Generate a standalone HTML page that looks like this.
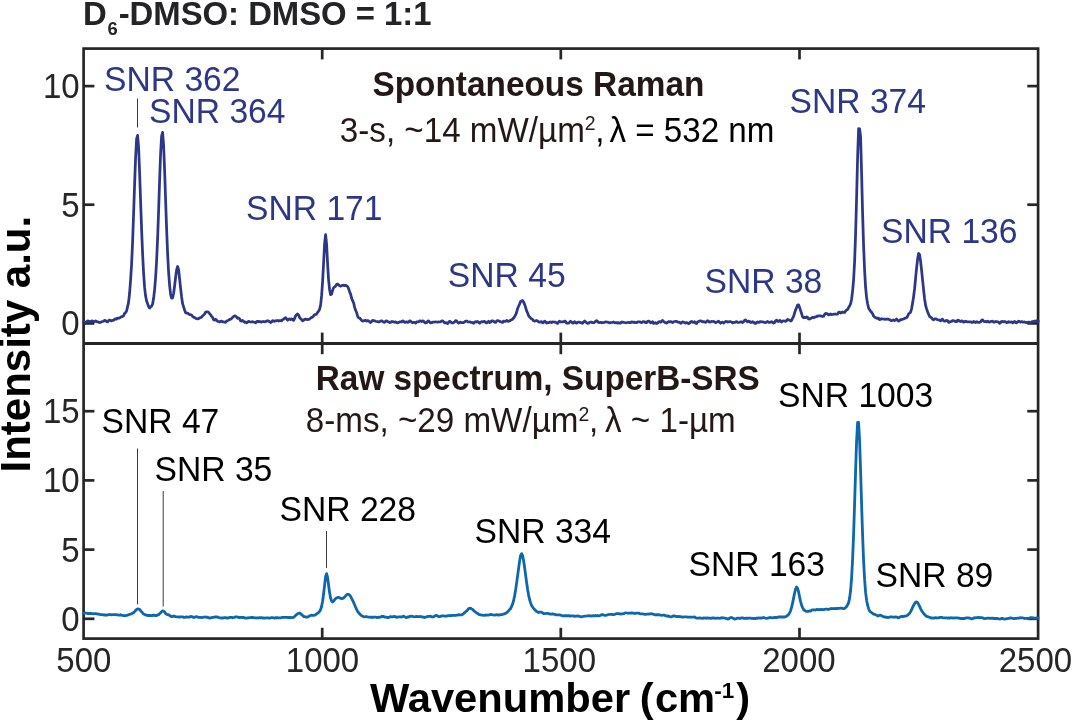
<!DOCTYPE html>
<html lang="en"><head><meta charset="utf-8"><title>D6-DMSO: DMSO = 1:1 spectra</title>
<style>
html,body{margin:0;padding:0;background:#fff;}
body{width:1072px;height:722px;overflow:hidden;font-family:"Liberation Sans",Arial,Helvetica,sans-serif;}
svg{display:block;will-change:transform;}
text{font-family:"Liberation Sans",Arial,Helvetica,sans-serif;}
</style></head><body>
<svg width="1072" height="722" viewBox="0 0 1072 722">
<rect x="0" y="0" width="1072" height="722" fill="#ffffff"/>

<text transform="translate(83.1,24.6) scale(1.0,1.03)" font-size="32.85" font-weight="bold" fill="#222426">D<tspan font-size="18.4" dy="10.5" dx="0.6">6</tspan><tspan dy="-10.5" dx="1.0">-DMSO: DMSO = 1:1</tspan></text>
<g stroke="#262626" stroke-width="2.7" fill="none" stroke-linecap="butt">
<rect x="83.6" y="48.6" width="954.4999999999999" height="590.0"/>
<line x1="83.6" y1="343.4" x2="1038.1" y2="343.4" stroke-width="3.0"/>
<line x1="83.6" y1="323.4" x2="94.39999999999999" y2="323.4"/>
<line x1="1038.1" y1="323.4" x2="1027.3" y2="323.4"/>
<line x1="83.6" y1="204.7" x2="94.39999999999999" y2="204.7"/>
<line x1="1038.1" y1="204.7" x2="1027.3" y2="204.7"/>
<line x1="83.6" y1="86.1" x2="94.39999999999999" y2="86.1"/>
<line x1="1038.1" y1="86.1" x2="1027.3" y2="86.1"/>
<line x1="83.6" y1="618.8" x2="94.39999999999999" y2="618.8"/>
<line x1="1038.1" y1="618.8" x2="1027.3" y2="618.8"/>
<line x1="83.6" y1="549.6" x2="94.39999999999999" y2="549.6"/>
<line x1="1038.1" y1="549.6" x2="1027.3" y2="549.6"/>
<line x1="83.6" y1="480.4" x2="94.39999999999999" y2="480.4"/>
<line x1="1038.1" y1="480.4" x2="1027.3" y2="480.4"/>
<line x1="83.6" y1="411.2" x2="94.39999999999999" y2="411.2"/>
<line x1="1038.1" y1="411.2" x2="1027.3" y2="411.2"/>
<line x1="322.2" y1="48.6" x2="322.2" y2="59.4"/>
<line x1="322.2" y1="332.59999999999997" x2="322.2" y2="354.2"/>
<line x1="322.2" y1="638.6" x2="322.2" y2="627.8000000000001"/>
<line x1="560.8" y1="48.6" x2="560.8" y2="59.4"/>
<line x1="560.8" y1="332.59999999999997" x2="560.8" y2="354.2"/>
<line x1="560.8" y1="638.6" x2="560.8" y2="627.8000000000001"/>
<line x1="799.5" y1="48.6" x2="799.5" y2="59.4"/>
<line x1="799.5" y1="332.59999999999997" x2="799.5" y2="354.2"/>
<line x1="799.5" y1="638.6" x2="799.5" y2="627.8000000000001"/>
</g>
<path d="M82.2,321.6 L83.6,322.1 L84.6,322.2 L85.6,322.2 L86.6,321.9 L87.6,320.8 L88.6,321.0 L89.6,321.9 L90.6,321.4 L91.6,320.9 L92.6,321.1 L93.6,321.6 L94.6,321.7 L95.6,320.9 L96.6,321.4 L97.6,321.9 L98.6,322.1 L99.6,322.5 L100.6,322.4 L101.6,321.8 L102.6,321.5 L103.6,321.2 L104.6,320.4 L105.6,320.6 L106.6,321.7 L107.6,321.8 L108.6,320.5 L109.6,320.1 L110.6,320.6 L111.6,320.8 L112.6,320.3 L113.6,320.3 L114.6,319.1 L115.6,318.9 L116.6,319.2 L117.6,318.0 L118.6,318.0 L119.6,318.0 L120.6,317.2 L121.6,316.6 L122.6,316.6 L123.6,315.7 L124.6,313.4 L125.6,312.7 L126.6,310.8 L127.6,306.7 L128.6,302.1 L129.6,293.0 L130.6,280.0 L131.6,264.2 L132.6,241.8 L133.6,213.7 L134.6,184.4 L135.6,157.2 L136.6,138.9 L137.6,135.4 L138.6,147.3 L139.6,172.0 L140.6,201.4 L141.6,229.5 L142.6,253.9 L143.6,273.3 L144.6,287.4 L145.6,296.1 L146.6,301.1 L147.6,303.8 L148.6,306.6 L149.6,308.1 L150.6,306.8 L151.6,306.1 L152.6,304.0 L153.6,298.3 L154.6,289.7 L155.6,277.3 L156.6,260.8 L157.6,238.6 L158.6,211.1 L159.6,180.6 L160.6,153.5 L161.6,136.1 L162.6,132.4 L163.6,145.3 L164.6,170.2 L165.6,200.1 L166.6,228.8 L167.6,253.4 L168.6,272.2 L169.6,285.3 L170.6,294.3 L171.6,298.1 L172.6,297.9 L173.6,293.5 L174.6,286.0 L175.6,277.3 L176.6,269.9 L177.6,266.5 L178.6,269.7 L179.6,278.9 L180.6,288.3 L181.6,296.9 L182.6,303.7 L183.6,306.8 L184.6,310.0 L185.6,312.8 L186.6,313.1 L187.6,313.1 L188.6,313.8 L189.6,314.6 L190.6,314.7 L191.6,315.0 L192.6,316.4 L193.6,317.3 L194.6,317.4 L195.6,318.4 L196.6,318.7 L197.6,318.9 L198.6,318.6 L199.6,317.8 L200.6,317.6 L201.6,317.0 L202.6,315.8 L203.6,315.0 L204.6,314.1 L205.6,312.0 L206.6,311.9 L207.6,311.8 L208.6,312.4 L209.6,313.7 L210.6,314.8 L211.6,316.4 L212.6,317.4 L213.6,319.7 L214.6,320.1 L215.6,319.3 L216.6,320.3 L217.6,321.3 L218.6,321.5 L219.6,321.9 L220.6,321.4 L221.6,321.2 L222.6,321.8 L223.6,321.9 L224.6,322.1 L225.6,322.3 L226.6,321.3 L227.6,320.5 L228.6,320.2 L229.6,319.4 L230.6,319.3 L231.6,318.5 L232.6,317.4 L233.6,316.4 L234.6,315.9 L235.6,316.1 L236.6,317.1 L237.6,318.3 L238.6,317.9 L239.6,318.8 L240.6,321.0 L241.6,321.1 L242.6,320.4 L243.6,321.4 L244.6,322.4 L245.6,322.0 L246.6,322.8 L247.6,322.2 L248.6,321.3 L249.6,321.7 L250.6,322.0 L251.6,321.8 L252.6,321.7 L253.6,322.0 L254.6,322.3 L255.6,322.8 L256.6,321.6 L257.6,321.3 L258.6,321.8 L259.6,321.5 L260.6,321.9 L261.6,322.1 L262.6,321.6 L263.6,321.5 L264.6,321.8 L265.6,321.7 L266.6,321.0 L267.6,320.7 L268.6,321.1 L269.6,321.7 L270.6,322.5 L271.6,321.8 L272.6,320.6 L273.6,321.1 L274.6,321.3 L275.6,320.8 L276.6,320.6 L277.6,320.5 L278.6,321.0 L279.6,320.6 L280.6,320.7 L281.6,320.8 L282.6,319.6 L283.6,319.3 L284.6,318.3 L285.6,317.6 L286.6,318.8 L287.6,320.2 L288.6,319.2 L289.6,319.0 L290.6,319.5 L291.6,318.8 L292.6,319.5 L293.6,320.4 L294.6,318.4 L295.6,315.8 L296.6,314.6 L297.6,314.0 L298.6,315.1 L299.6,317.5 L300.6,318.7 L301.6,319.6 L302.6,320.8 L303.6,320.2 L304.6,319.3 L305.6,319.2 L306.6,319.4 L307.6,319.6 L308.6,319.3 L309.6,319.1 L310.6,318.1 L311.6,317.6 L312.6,317.1 L313.6,315.9 L314.6,314.5 L315.6,314.5 L316.6,314.1 L317.6,312.3 L318.6,311.2 L319.6,309.3 L320.6,305.1 L321.6,295.7 L322.6,281.7 L323.6,262.8 L324.6,243.4 L325.6,234.7 L326.6,244.3 L327.6,263.9 L328.6,280.1 L329.6,289.7 L330.6,294.7 L331.6,294.1 L332.6,290.2 L333.6,287.7 L334.6,286.9 L335.6,286.1 L336.6,284.4 L337.6,284.0 L338.6,285.0 L339.6,285.7 L340.6,286.1 L341.6,285.8 L342.6,285.3 L343.6,285.2 L344.6,285.6 L345.6,285.4 L346.6,285.7 L347.6,286.5 L348.6,288.6 L349.6,291.7 L350.6,294.1 L351.6,298.0 L352.6,300.7 L353.6,302.8 L354.6,307.1 L355.6,310.3 L356.6,312.5 L357.6,316.2 L358.6,317.9 L359.6,318.0 L360.6,319.1 L361.6,320.3 L362.6,321.0 L363.6,320.9 L364.6,320.5 L365.6,320.4 L366.6,321.1 L367.6,320.6 L368.6,320.9 L369.6,321.9 L370.6,322.5 L371.6,321.6 L372.6,320.3 L373.6,320.7 L374.6,320.8 L375.6,321.2 L376.6,321.5 L377.6,321.7 L378.6,321.9 L379.6,321.8 L380.6,321.0 L381.6,320.7 L382.6,321.5 L383.6,322.1 L384.6,322.3 L385.6,321.3 L386.6,320.8 L387.6,321.5 L388.6,321.9 L389.6,322.5 L390.6,322.4 L391.6,321.5 L392.6,321.6 L393.6,322.1 L394.6,322.1 L395.6,321.9 L396.6,322.6 L397.6,322.8 L398.6,322.4 L399.6,321.9 L400.6,321.9 L401.6,322.0 L402.6,320.9 L403.6,321.3 L404.6,322.4 L405.6,322.1 L406.6,321.8 L407.6,322.4 L408.6,322.2 L409.6,320.8 L410.6,321.1 L411.6,322.2 L412.6,322.6 L413.6,322.3 L414.6,322.4 L415.6,323.1 L416.6,321.9 L417.6,321.8 L418.6,321.9 L419.6,320.8 L420.6,321.1 L421.6,321.6 L422.6,320.8 L423.6,321.2 L424.6,322.4 L425.6,322.9 L426.6,322.6 L427.6,321.3 L428.6,320.9 L429.6,322.0 L430.6,322.9 L431.6,322.7 L432.6,322.1 L433.6,322.0 L434.6,322.0 L435.6,321.8 L436.6,322.0 L437.6,322.2 L438.6,321.9 L439.6,322.0 L440.6,321.8 L441.6,320.9 L442.6,320.9 L443.6,321.7 L444.6,322.8 L445.6,322.6 L446.6,322.8 L447.6,323.6 L448.6,322.3 L449.6,321.3 L450.6,321.8 L451.6,322.9 L452.6,323.0 L453.6,322.5 L454.6,322.0 L455.6,320.7 L456.6,320.9 L457.6,322.3 L458.6,323.0 L459.6,322.6 L460.6,322.1 L461.6,322.7 L462.6,322.5 L463.6,322.5 L464.6,322.0 L465.6,321.0 L466.6,321.0 L467.6,321.7 L468.6,322.0 L469.6,321.8 L470.6,322.3 L471.6,322.3 L472.6,322.8 L473.6,323.3 L474.6,322.3 L475.6,321.7 L476.6,322.0 L477.6,321.4 L478.6,322.3 L479.6,323.2 L480.6,322.2 L481.6,321.7 L482.6,321.9 L483.6,321.6 L484.6,321.3 L485.6,322.4 L486.6,322.9 L487.6,322.0 L488.6,321.3 L489.6,322.5 L490.6,322.1 L491.6,320.9 L492.6,320.9 L493.6,321.3 L494.6,322.1 L495.6,322.4 L496.6,321.0 L497.6,320.6 L498.6,321.0 L499.6,321.2 L500.6,321.8 L501.6,322.2 L502.6,322.4 L503.6,321.1 L504.6,321.4 L505.6,321.3 L506.6,320.4 L507.6,321.2 L508.6,321.4 L509.6,320.8 L510.6,320.2 L511.6,319.7 L512.6,319.2 L513.6,318.0 L514.6,316.6 L515.6,315.1 L516.6,312.3 L517.6,308.5 L518.6,306.3 L519.6,304.0 L520.6,301.4 L521.6,300.9 L522.6,300.6 L523.6,302.1 L524.6,304.4 L525.6,307.4 L526.6,310.8 L527.6,313.0 L528.6,315.7 L529.6,317.0 L530.6,318.0 L531.6,318.9 L532.6,319.5 L533.6,320.8 L534.6,321.1 L535.6,320.8 L536.6,320.5 L537.6,321.1 L538.6,321.7 L539.6,322.2 L540.6,321.9 L541.6,321.7 L542.6,322.9 L543.6,322.5 L544.6,321.1 L545.6,321.9 L546.6,323.0 L547.6,322.6 L548.6,322.7 L549.6,322.2 L550.6,322.0 L551.6,322.6 L552.6,321.9 L553.6,322.0 L554.6,322.1 L555.6,322.2 L556.6,323.0 L557.6,323.4 L558.6,321.9 L559.6,321.2 L560.6,322.0 L561.6,321.9 L562.6,321.9 L563.6,321.9 L564.6,321.1 L565.6,321.6 L566.6,323.2 L567.6,323.2 L568.6,323.1 L569.6,322.3 L570.6,321.3 L571.6,322.1 L572.6,323.2 L573.6,322.9 L574.6,321.6 L575.6,322.7 L576.6,323.1 L577.6,322.3 L578.6,322.1 L579.6,322.1 L580.6,322.7 L581.6,322.9 L582.6,323.3 L583.6,321.9 L584.6,321.0 L585.6,321.9 L586.6,322.7 L587.6,323.4 L588.6,323.2 L589.6,322.3 L590.6,322.1 L591.6,322.2 L592.6,322.7 L593.6,322.7 L594.6,322.2 L595.6,321.5 L596.6,320.6 L597.6,321.3 L598.6,322.5 L599.6,322.5 L600.6,322.4 L601.6,322.8 L602.6,322.5 L603.6,322.6 L604.6,322.3 L605.6,321.9 L606.6,322.0 L607.6,322.1 L608.6,322.5 L609.6,322.9 L610.6,322.7 L611.6,322.5 L612.6,322.3 L613.6,322.0 L614.6,322.8 L615.6,322.7 L616.6,322.7 L617.6,323.1 L618.6,322.6 L619.6,323.2 L620.6,323.1 L621.6,322.0 L622.6,322.1 L623.6,322.4 L624.6,322.5 L625.6,322.8 L626.6,322.7 L627.6,322.5 L628.6,322.3 L629.6,322.7 L630.6,322.6 L631.6,321.9 L632.6,322.1 L633.6,322.4 L634.6,322.1 L635.6,322.7 L636.6,322.7 L637.6,321.8 L638.6,321.9 L639.6,321.8 L640.6,322.3 L641.6,322.6 L642.6,321.9 L643.6,321.6 L644.6,321.8 L645.6,322.7 L646.6,322.6 L647.6,321.3 L648.6,321.1 L649.6,321.5 L650.6,322.8 L651.6,322.4 L652.6,321.8 L653.6,323.4 L654.6,323.2 L655.6,322.7 L656.6,323.5 L657.6,323.0 L658.6,321.8 L659.6,321.7 L660.6,322.2 L661.6,321.2 L662.6,320.5 L663.6,321.4 L664.6,322.3 L665.6,322.8 L666.6,323.1 L667.6,322.3 L668.6,321.7 L669.6,321.9 L670.6,321.6 L671.6,322.0 L672.6,322.5 L673.6,321.8 L674.6,321.5 L675.6,321.3 L676.6,321.4 L677.6,322.1 L678.6,322.1 L679.6,322.4 L680.6,323.4 L681.6,322.6 L682.6,321.9 L683.6,322.0 L684.6,322.8 L685.6,323.1 L686.6,322.6 L687.6,322.8 L688.6,323.6 L689.6,323.3 L690.6,321.8 L691.6,321.5 L692.6,322.2 L693.6,322.4 L694.6,321.8 L695.6,323.1 L696.6,323.5 L697.6,321.9 L698.6,321.5 L699.6,321.0 L700.6,320.8 L701.6,321.4 L702.6,321.8 L703.6,321.6 L704.6,322.0 L705.6,322.4 L706.6,321.7 L707.6,320.7 L708.6,321.2 L709.6,322.2 L710.6,322.0 L711.6,321.4 L712.6,321.5 L713.6,321.4 L714.6,321.9 L715.6,322.6 L716.6,322.3 L717.6,321.8 L718.6,321.2 L719.6,322.3 L720.6,323.2 L721.6,322.4 L722.6,322.2 L723.6,323.1 L724.6,322.3 L725.6,321.4 L726.6,321.6 L727.6,322.1 L728.6,321.8 L729.6,321.7 L730.6,321.7 L731.6,322.0 L732.6,322.9 L733.6,322.4 L734.6,322.3 L735.6,322.1 L736.6,321.6 L737.6,322.4 L738.6,322.5 L739.6,322.2 L740.6,321.8 L741.6,321.9 L742.6,322.6 L743.6,321.7 L744.6,320.4 L745.6,320.0 L746.6,321.1 L747.6,321.9 L748.6,321.2 L749.6,321.4 L750.6,322.5 L751.6,322.4 L752.6,321.7 L753.6,322.2 L754.6,323.2 L755.6,323.5 L756.6,322.4 L757.6,322.0 L758.6,322.4 L759.6,321.9 L760.6,321.6 L761.6,321.8 L762.6,321.9 L763.6,322.1 L764.6,322.5 L765.6,322.6 L766.6,321.9 L767.6,321.4 L768.6,322.3 L769.6,322.4 L770.6,322.2 L771.6,321.7 L772.6,322.3 L773.6,323.1 L774.6,322.5 L775.6,320.8 L776.6,320.1 L777.6,321.4 L778.6,321.5 L779.6,320.4 L780.6,320.8 L781.6,322.0 L782.6,321.2 L783.6,320.8 L784.6,321.0 L785.6,321.4 L786.6,320.7 L787.6,319.5 L788.6,320.0 L789.6,320.2 L790.6,321.0 L791.6,320.3 L792.6,318.2 L793.6,316.3 L794.6,313.0 L795.6,309.9 L796.6,307.6 L797.6,305.1 L798.6,304.8 L799.6,307.4 L800.6,310.6 L801.6,313.7 L802.6,316.9 L803.6,317.7 L804.6,317.4 L805.6,317.7 L806.6,317.0 L807.6,317.4 L808.6,319.0 L809.6,319.1 L810.6,318.6 L811.6,318.1 L812.6,317.2 L813.6,317.7 L814.6,317.3 L815.6,316.9 L816.6,316.7 L817.6,315.8 L818.6,316.0 L819.6,315.9 L820.6,315.9 L821.6,316.1 L822.6,316.5 L823.6,316.2 L824.6,314.5 L825.6,313.4 L826.6,313.6 L827.6,314.1 L828.6,314.9 L829.6,314.4 L830.6,314.0 L831.6,314.6 L832.6,314.5 L833.6,314.2 L834.6,314.1 L835.6,314.0 L836.6,314.2 L837.6,314.1 L838.6,312.4 L839.6,312.1 L840.6,313.1 L841.6,312.6 L842.6,311.9 L843.6,312.4 L844.6,312.5 L845.6,311.0 L846.6,310.1 L847.6,309.5 L848.6,307.5 L849.6,306.0 L850.6,303.8 L851.6,299.2 L852.6,291.1 L853.6,279.6 L854.6,261.7 L855.6,233.7 L856.6,197.4 L857.6,157.1 L858.6,128.7 L859.6,128.8 L860.6,136.8 L861.6,173.8 L862.6,213.6 L863.6,246.0 L864.6,270.2 L865.6,287.6 L866.6,297.6 L867.6,303.8 L868.6,308.0 L869.6,309.8 L870.6,311.3 L871.6,312.3 L872.6,313.7 L873.6,316.1 L874.6,317.2 L875.6,317.5 L876.6,318.3 L877.6,318.1 L878.6,318.2 L879.6,319.7 L880.6,319.3 L881.6,318.7 L882.6,319.0 L883.6,319.1 L884.6,319.1 L885.6,319.3 L886.6,319.1 L887.6,319.0 L888.6,319.4 L889.6,319.5 L890.6,320.4 L891.6,320.7 L892.6,320.2 L893.6,320.0 L894.6,320.5 L895.6,319.8 L896.6,319.0 L897.6,320.3 L898.6,321.1 L899.6,320.5 L900.6,319.6 L901.6,319.6 L902.6,319.3 L903.6,319.0 L904.6,318.4 L905.6,318.0 L906.6,317.7 L907.6,316.2 L908.6,313.8 L909.6,313.1 L910.6,312.2 L911.6,308.6 L912.6,303.1 L913.6,296.6 L914.6,288.7 L915.6,278.2 L916.6,267.9 L917.6,259.1 L918.6,253.5 L919.6,254.7 L920.6,261.5 L921.6,270.4 L922.6,280.2 L923.6,289.9 L924.6,299.0 L925.6,305.4 L926.6,308.9 L927.6,311.7 L928.6,314.3 L929.6,316.5 L930.6,317.2 L931.6,317.8 L932.6,319.3 L933.6,319.8 L934.6,318.9 L935.6,318.8 L936.6,319.2 L937.6,319.7 L938.6,320.0 L939.6,320.2 L940.6,320.9 L941.6,319.6 L942.6,319.2 L943.6,320.7 L944.6,321.2 L945.6,320.9 L946.6,320.4 L947.6,320.8 L948.6,322.3 L949.6,322.2 L950.6,321.5 L951.6,321.3 L952.6,320.7 L953.6,320.7 L954.6,321.0 L955.6,321.7 L956.6,321.7 L957.6,320.2 L958.6,320.3 L959.6,321.2 L960.6,321.5 L961.6,320.8 L962.6,321.3 L963.6,322.2 L964.6,321.6 L965.6,321.2 L966.6,321.6 L967.6,321.8 L968.6,321.8 L969.6,321.9 L970.6,321.8 L971.6,322.4 L972.6,322.4 L973.6,321.5 L974.6,321.9 L975.6,322.5 L976.6,321.7 L977.6,322.1 L978.6,322.3 L979.6,322.3 L980.6,321.9 L981.6,320.3 L982.6,319.9 L983.6,321.1 L984.6,321.7 L985.6,321.5 L986.6,321.9 L987.6,321.2 L988.6,321.9 L989.6,322.1 L990.6,321.5 L991.6,321.3 L992.6,321.2 L993.6,322.2 L994.6,322.2 L995.6,321.5 L996.6,321.6 L997.6,321.8 L998.6,322.0 L999.6,323.3 L1000.6,322.6 L1001.6,321.3 L1002.6,321.6 L1003.6,321.9 L1004.6,321.5 L1005.6,321.8 L1006.6,322.6 L1007.6,322.5 L1008.6,321.6 L1009.6,322.2 L1010.6,322.2 L1011.6,321.8 L1012.6,322.9 L1013.6,322.0 L1014.6,321.5 L1015.6,322.7 L1016.6,322.9 L1017.6,321.8 L1018.6,321.1 L1019.6,321.7 L1020.6,322.1 L1021.6,321.6 L1022.6,322.1 L1023.6,322.2 L1024.6,321.9 L1025.6,322.4 L1026.6,322.6 L1027.6,322.3 L1028.6,322.1 L1029.6,322.4 L1030.6,322.6 L1031.6,321.8 L1032.6,321.5 L1033.6,321.6 L1034.6,321.1 L1035.6,321.3 L1036.6,320.8 L1037.6,321.4 L1039.4,322.1" fill="none" stroke="#2d3787" stroke-width="2.75" stroke-linejoin="round" stroke-linecap="butt"/>
<path d="M82.2,612.9 L83.6,613.3 L84.6,613.2 L85.6,613.2 L86.6,613.1 L87.6,613.6 L88.6,613.4 L89.6,613.6 L90.6,613.2 L91.6,613.6 L92.6,613.7 L93.6,613.8 L94.6,613.7 L95.6,613.7 L96.6,613.9 L97.6,614.0 L98.6,614.1 L99.6,614.4 L100.6,614.6 L101.6,614.6 L102.6,614.7 L103.6,615.0 L104.6,615.0 L105.6,614.9 L106.6,615.1 L107.6,615.0 L108.6,614.7 L109.6,614.5 L110.6,614.7 L111.6,614.9 L112.6,614.7 L113.6,614.7 L114.6,614.7 L115.6,614.7 L116.6,614.7 L117.6,615.0 L118.6,615.1 L119.6,615.1 L120.6,614.7 L121.6,615.1 L122.6,615.3 L123.6,615.6 L124.6,615.7 L125.6,615.6 L126.6,615.3 L127.6,615.1 L128.6,614.7 L129.6,614.5 L130.6,614.0 L131.6,613.8 L132.6,613.1 L133.6,612.7 L134.6,611.6 L135.6,610.5 L136.6,609.5 L137.6,608.9 L138.6,609.1 L139.6,609.3 L140.6,610.6 L141.6,611.8 L142.6,612.9 L143.6,613.9 L144.6,614.5 L145.6,615.0 L146.6,615.1 L147.6,615.5 L148.6,615.4 L149.6,615.5 L150.6,615.5 L151.6,615.6 L152.6,615.5 L153.6,615.2 L154.6,615.5 L155.6,615.5 L156.6,615.5 L157.6,614.8 L158.6,614.6 L159.6,613.7 L160.6,612.9 L161.6,611.6 L162.6,611.0 L163.6,611.1 L164.6,611.9 L165.6,613.5 L166.6,614.2 L167.6,614.7 L168.6,614.7 L169.6,615.5 L170.6,616.2 L171.6,616.7 L172.6,616.2 L173.6,616.1 L174.6,616.4 L175.6,616.7 L176.6,616.8 L177.6,616.8 L178.6,617.0 L179.6,617.0 L180.6,616.9 L181.6,616.8 L182.6,616.9 L183.6,617.3 L184.6,617.4 L185.6,617.1 L186.6,616.9 L187.6,617.1 L188.6,617.1 L189.6,617.0 L190.6,616.4 L191.6,616.6 L192.6,616.8 L193.6,617.5 L194.6,617.3 L195.6,616.8 L196.6,616.7 L197.6,617.0 L198.6,617.4 L199.6,617.4 L200.6,617.4 L201.6,617.6 L202.6,617.4 L203.6,617.2 L204.6,617.1 L205.6,617.0 L206.6,617.3 L207.6,617.2 L208.6,617.8 L209.6,618.0 L210.6,617.9 L211.6,617.7 L212.6,617.3 L213.6,617.4 L214.6,617.0 L215.6,617.0 L216.6,616.9 L217.6,617.2 L218.6,617.5 L219.6,617.8 L220.6,617.9 L221.6,618.0 L222.6,618.0 L223.6,617.9 L224.6,617.6 L225.6,617.6 L226.6,618.0 L227.6,618.0 L228.6,617.9 L229.6,617.4 L230.6,617.3 L231.6,617.4 L232.6,617.8 L233.6,617.5 L234.6,617.3 L235.6,616.8 L236.6,616.8 L237.6,617.1 L238.6,617.4 L239.6,617.7 L240.6,617.4 L241.6,617.4 L242.6,617.5 L243.6,617.5 L244.6,617.9 L245.6,618.0 L246.6,618.2 L247.6,617.9 L248.6,617.9 L249.6,617.7 L250.6,617.6 L251.6,617.4 L252.6,617.5 L253.6,617.6 L254.6,617.8 L255.6,617.9 L256.6,618.0 L257.6,617.8 L258.6,617.8 L259.6,617.6 L260.6,617.9 L261.6,617.7 L262.6,618.0 L263.6,617.9 L264.6,618.1 L265.6,618.0 L266.6,617.8 L267.6,617.9 L268.6,618.0 L269.6,618.2 L270.6,617.9 L271.6,617.7 L272.6,617.7 L273.6,617.9 L274.6,618.2 L275.6,617.7 L276.6,618.0 L277.6,617.6 L278.6,617.8 L279.6,617.8 L280.6,617.8 L281.6,617.7 L282.6,617.3 L283.6,617.3 L284.6,617.3 L285.6,617.4 L286.6,617.3 L287.6,617.5 L288.6,617.4 L289.6,617.6 L290.6,617.4 L291.6,617.6 L292.6,617.5 L293.6,617.3 L294.6,616.5 L295.6,615.4 L296.6,614.6 L297.6,613.7 L298.6,613.3 L299.6,613.0 L300.6,613.6 L301.6,614.7 L302.6,615.5 L303.6,616.5 L304.6,616.6 L305.6,617.1 L306.6,617.2 L307.6,617.1 L308.6,616.6 L309.6,615.8 L310.6,615.5 L311.6,615.2 L312.6,615.3 L313.6,615.4 L314.6,615.2 L315.6,614.7 L316.6,613.9 L317.6,613.3 L318.6,612.5 L319.6,611.3 L320.6,609.7 L321.6,606.5 L322.6,601.2 L323.6,593.8 L324.6,584.9 L325.6,576.7 L326.6,573.7 L327.6,577.5 L328.6,585.3 L329.6,592.6 L330.6,598.0 L331.6,601.2 L332.6,602.0 L333.6,601.2 L334.6,599.7 L335.6,598.6 L336.6,597.9 L337.6,597.4 L338.6,597.3 L339.6,597.9 L340.6,598.3 L341.6,598.8 L342.6,598.4 L343.6,598.1 L344.6,597.1 L345.6,595.9 L346.6,594.8 L347.6,594.3 L348.6,594.3 L349.6,595.1 L350.6,596.4 L351.6,598.4 L352.6,600.4 L353.6,602.4 L354.6,604.7 L355.6,607.1 L356.6,609.3 L357.6,611.3 L358.6,612.6 L359.6,613.9 L360.6,614.8 L361.6,615.6 L362.6,616.3 L363.6,616.8 L364.6,616.8 L365.6,616.7 L366.6,616.7 L367.6,617.0 L368.6,617.2 L369.6,617.1 L370.6,617.3 L371.6,617.1 L372.6,617.5 L373.6,617.1 L374.6,617.2 L375.6,617.2 L376.6,617.5 L377.6,617.5 L378.6,617.1 L379.6,617.3 L380.6,617.2 L381.6,616.5 L382.6,616.5 L383.6,616.5 L384.6,617.2 L385.6,617.0 L386.6,617.4 L387.6,617.5 L388.6,617.5 L389.6,617.1 L390.6,616.6 L391.6,616.8 L392.6,616.8 L393.6,616.5 L394.6,616.5 L395.6,616.7 L396.6,617.3 L397.6,617.1 L398.6,616.8 L399.6,616.8 L400.6,616.9 L401.6,617.0 L402.6,616.5 L403.6,616.2 L404.6,616.7 L405.6,617.2 L406.6,617.6 L407.6,617.0 L408.6,617.0 L409.6,616.5 L410.6,616.4 L411.6,616.2 L412.6,616.5 L413.6,616.7 L414.6,616.8 L415.6,616.6 L416.6,616.5 L417.6,616.6 L418.6,616.6 L419.6,616.6 L420.6,616.5 L421.6,616.9 L422.6,617.0 L423.6,617.1 L424.6,617.5 L425.6,617.1 L426.6,616.9 L427.6,616.4 L428.6,616.4 L429.6,616.4 L430.6,616.2 L431.6,616.8 L432.6,616.9 L433.6,616.9 L434.6,616.1 L435.6,615.6 L436.6,615.4 L437.6,615.9 L438.6,616.6 L439.6,616.7 L440.6,616.5 L441.6,615.8 L442.6,615.9 L443.6,615.8 L444.6,616.2 L445.6,616.1 L446.6,616.1 L447.6,615.7 L448.6,615.7 L449.6,615.6 L450.6,615.5 L451.6,615.6 L452.6,615.4 L453.6,615.3 L454.6,615.3 L455.6,615.5 L456.6,615.2 L457.6,615.1 L458.6,614.7 L459.6,614.9 L460.6,614.8 L461.6,614.8 L462.6,614.4 L463.6,613.6 L464.6,612.6 L465.6,611.8 L466.6,610.9 L467.6,609.9 L468.6,608.5 L469.6,608.3 L470.6,608.2 L471.6,609.0 L472.6,609.3 L473.6,610.5 L474.6,611.4 L475.6,612.2 L476.6,612.9 L477.6,613.5 L478.6,614.2 L479.6,614.7 L480.6,614.9 L481.6,615.1 L482.6,615.2 L483.6,615.3 L484.6,615.3 L485.6,615.0 L486.6,615.1 L487.6,615.1 L488.6,615.0 L489.6,614.8 L490.6,614.4 L491.6,614.6 L492.6,614.8 L493.6,615.0 L494.6,615.2 L495.6,614.9 L496.6,614.7 L497.6,614.9 L498.6,615.0 L499.6,615.1 L500.6,614.6 L501.6,614.7 L502.6,614.4 L503.6,614.2 L504.6,613.6 L505.6,613.3 L506.6,612.7 L507.6,611.7 L508.6,610.8 L509.6,609.5 L510.6,608.6 L511.6,606.4 L512.6,604.1 L513.6,600.7 L514.6,595.8 L515.6,590.0 L516.6,583.1 L517.6,575.9 L518.6,568.4 L519.6,561.1 L520.6,555.5 L521.6,553.6 L522.6,555.5 L523.6,560.8 L524.6,567.4 L525.6,574.9 L526.6,582.4 L527.6,589.3 L528.6,595.1 L529.6,599.5 L530.6,602.9 L531.6,605.4 L532.6,607.0 L533.6,608.3 L534.6,609.5 L535.6,610.5 L536.6,611.5 L537.6,611.9 L538.6,612.6 L539.6,612.1 L540.6,612.2 L541.6,612.2 L542.6,612.9 L543.6,613.6 L544.6,613.7 L545.6,613.5 L546.6,613.3 L547.6,613.4 L548.6,613.7 L549.6,614.0 L550.6,614.1 L551.6,614.1 L552.6,613.8 L553.6,614.1 L554.6,614.3 L555.6,614.8 L556.6,614.8 L557.6,614.9 L558.6,614.9 L559.6,614.8 L560.6,615.2 L561.6,615.5 L562.6,615.8 L563.6,615.9 L564.6,615.6 L565.6,615.9 L566.6,615.6 L567.6,615.8 L568.6,615.6 L569.6,616.0 L570.6,616.0 L571.6,615.9 L572.6,615.8 L573.6,615.9 L574.6,616.4 L575.6,616.2 L576.6,616.1 L577.6,615.9 L578.6,616.1 L579.6,616.4 L580.6,616.6 L581.6,616.8 L582.6,616.5 L583.6,616.3 L584.6,616.2 L585.6,616.2 L586.6,616.0 L587.6,615.8 L588.6,615.7 L589.6,615.9 L590.6,615.9 L591.6,616.0 L592.6,615.9 L593.6,615.6 L594.6,615.9 L595.6,615.5 L596.6,615.8 L597.6,615.5 L598.6,615.9 L599.6,615.6 L600.6,615.2 L601.6,614.7 L602.6,614.6 L603.6,615.0 L604.6,615.3 L605.6,615.4 L606.6,615.2 L607.6,614.8 L608.6,614.5 L609.6,614.3 L610.6,614.3 L611.6,614.4 L612.6,614.5 L613.6,614.7 L614.6,614.3 L615.6,614.0 L616.6,613.7 L617.6,613.5 L618.6,613.7 L619.6,613.9 L620.6,614.0 L621.6,613.9 L622.6,613.9 L623.6,613.7 L624.6,613.2 L625.6,612.8 L626.6,613.0 L627.6,613.2 L628.6,613.2 L629.6,613.2 L630.6,613.1 L631.6,613.0 L632.6,613.0 L633.6,613.2 L634.6,613.5 L635.6,613.3 L636.6,613.1 L637.6,613.1 L638.6,613.1 L639.6,613.6 L640.6,613.8 L641.6,613.9 L642.6,613.8 L643.6,614.0 L644.6,614.3 L645.6,614.4 L646.6,614.2 L647.6,614.2 L648.6,614.1 L649.6,613.8 L650.6,613.8 L651.6,613.7 L652.6,614.0 L653.6,614.3 L654.6,614.7 L655.6,615.0 L656.6,614.7 L657.6,615.0 L658.6,614.7 L659.6,614.8 L660.6,615.1 L661.6,615.3 L662.6,615.2 L663.6,615.1 L664.6,615.1 L665.6,615.8 L666.6,615.8 L667.6,616.3 L668.6,616.0 L669.6,616.5 L670.6,616.8 L671.6,616.9 L672.6,616.2 L673.6,615.9 L674.6,615.9 L675.6,616.4 L676.6,616.5 L677.6,616.6 L678.6,616.4 L679.6,616.6 L680.6,616.7 L681.6,617.0 L682.6,617.1 L683.6,617.0 L684.6,616.8 L685.6,616.8 L686.6,616.8 L687.6,617.2 L688.6,617.1 L689.6,617.2 L690.6,617.2 L691.6,617.2 L692.6,617.2 L693.6,617.1 L694.6,617.0 L695.6,617.6 L696.6,618.2 L697.6,618.1 L698.6,618.1 L699.6,617.8 L700.6,618.2 L701.6,618.1 L702.6,618.4 L703.6,617.9 L704.6,618.1 L705.6,617.9 L706.6,618.3 L707.6,617.9 L708.6,618.1 L709.6,618.1 L710.6,618.4 L711.6,618.1 L712.6,618.0 L713.6,618.0 L714.6,618.1 L715.6,618.3 L716.6,618.1 L717.6,618.2 L718.6,618.2 L719.6,618.3 L720.6,618.2 L721.6,617.7 L722.6,617.8 L723.6,617.8 L724.6,618.0 L725.6,618.3 L726.6,618.6 L727.6,619.1 L728.6,618.8 L729.6,618.0 L730.6,617.7 L731.6,617.5 L732.6,618.0 L733.6,618.5 L734.6,619.1 L735.6,618.9 L736.6,618.4 L737.6,618.2 L738.6,618.2 L739.6,618.5 L740.6,618.1 L741.6,618.0 L742.6,617.9 L743.6,618.3 L744.6,618.4 L745.6,618.4 L746.6,618.1 L747.6,618.4 L748.6,618.1 L749.6,618.2 L750.6,618.1 L751.6,618.4 L752.6,618.3 L753.6,618.6 L754.6,618.5 L755.6,618.6 L756.6,618.1 L757.6,618.3 L758.6,617.9 L759.6,618.1 L760.6,618.0 L761.6,618.1 L762.6,617.7 L763.6,617.5 L764.6,617.9 L765.6,618.2 L766.6,618.3 L767.6,618.2 L768.6,617.8 L769.6,617.6 L770.6,617.5 L771.6,617.7 L772.6,617.8 L773.6,617.6 L774.6,617.5 L775.6,617.5 L776.6,617.6 L777.6,617.2 L778.6,617.0 L779.6,617.0 L780.6,617.0 L781.6,616.9 L782.6,617.0 L783.6,617.0 L784.6,617.0 L785.6,616.6 L786.6,616.2 L787.6,615.4 L788.6,614.4 L789.6,613.0 L790.6,610.7 L791.6,607.1 L792.6,602.9 L793.6,598.1 L794.6,593.0 L795.6,589.0 L796.6,587.0 L797.6,588.4 L798.6,591.9 L799.6,596.9 L800.6,601.6 L801.6,605.2 L802.6,607.6 L803.6,609.5 L804.6,610.5 L805.6,611.0 L806.6,611.4 L807.6,611.3 L808.6,611.3 L809.6,610.9 L810.6,611.0 L811.6,610.3 L812.6,609.8 L813.6,609.8 L814.6,609.9 L815.6,610.0 L816.6,609.5 L817.6,609.5 L818.6,609.7 L819.6,609.5 L820.6,609.6 L821.6,609.4 L822.6,609.7 L823.6,609.6 L824.6,609.4 L825.6,609.2 L826.6,609.1 L827.6,609.4 L828.6,609.4 L829.6,609.0 L830.6,608.7 L831.6,608.5 L832.6,608.6 L833.6,608.6 L834.6,608.5 L835.6,608.7 L836.6,608.4 L837.6,608.5 L838.6,608.3 L839.6,608.4 L840.6,608.2 L841.6,608.1 L842.6,608.4 L843.6,608.6 L844.6,608.3 L845.6,607.5 L846.6,606.6 L847.6,604.9 L848.6,602.7 L849.6,598.1 L850.6,590.5 L851.6,577.8 L852.6,559.1 L853.6,534.3 L854.6,503.7 L855.6,470.8 L856.6,440.9 L857.6,422.5 L858.6,422.5 L859.6,440.9 L860.6,471.0 L861.6,504.7 L862.6,535.4 L863.6,560.7 L864.6,579.4 L865.6,592.4 L866.6,600.2 L867.6,605.2 L868.6,608.7 L869.6,611.0 L870.6,611.9 L871.6,612.6 L872.6,613.3 L873.6,614.1 L874.6,614.3 L875.6,614.8 L876.6,615.2 L877.6,616.0 L878.6,615.6 L879.6,615.4 L880.6,615.1 L881.6,615.7 L882.6,616.1 L883.6,616.8 L884.6,616.8 L885.6,617.3 L886.6,617.2 L887.6,617.5 L888.6,617.4 L889.6,617.1 L890.6,616.9 L891.6,616.8 L892.6,617.1 L893.6,617.1 L894.6,617.2 L895.6,616.8 L896.6,617.1 L897.6,617.6 L898.6,617.9 L899.6,617.3 L900.6,616.6 L901.6,616.5 L902.6,616.6 L903.6,616.5 L904.6,616.1 L905.6,616.1 L906.6,615.7 L907.6,615.1 L908.6,614.2 L909.6,613.2 L910.6,611.7 L911.6,609.7 L912.6,607.4 L913.6,605.3 L914.6,603.6 L915.6,602.1 L916.6,602.0 L917.6,602.7 L918.6,604.4 L919.6,606.4 L920.6,608.6 L921.6,610.6 L922.6,612.0 L923.6,613.3 L924.6,614.5 L925.6,615.5 L926.6,616.4 L927.6,616.6 L928.6,617.0 L929.6,617.3 L930.6,617.7 L931.6,618.1 L932.6,618.0 L933.6,618.1 L934.6,618.0 L935.6,617.7 L936.6,618.0 L937.6,617.8 L938.6,617.9 L939.6,617.4 L940.6,617.3 L941.6,617.4 L942.6,617.7 L943.6,617.9 L944.6,617.8 L945.6,617.9 L946.6,617.8 L947.6,618.1 L948.6,617.9 L949.6,618.1 L950.6,617.7 L951.6,617.9 L952.6,617.8 L953.6,618.1 L954.6,617.9 L955.6,617.9 L956.6,617.9 L957.6,617.8 L958.6,618.2 L959.6,618.2 L960.6,618.7 L961.6,618.3 L962.6,618.6 L963.6,618.5 L964.6,618.6 L965.6,618.1 L966.6,617.8 L967.6,617.8 L968.6,617.8 L969.6,618.1 L970.6,618.5 L971.6,618.9 L972.6,618.7 L973.6,618.1 L974.6,617.7 L975.6,617.9 L976.6,617.6 L977.6,617.7 L978.6,617.3 L979.6,617.7 L980.6,617.6 L981.6,617.7 L982.6,617.9 L983.6,618.3 L984.6,618.6 L985.6,618.4 L986.6,618.4 L987.6,618.1 L988.6,618.2 L989.6,618.3 L990.6,618.2 L991.6,618.4 L992.6,618.1 L993.6,618.6 L994.6,618.3 L995.6,618.7 L996.6,618.4 L997.6,618.5 L998.6,618.8 L999.6,619.0 L1000.6,618.9 L1001.6,618.4 L1002.6,618.4 L1003.6,618.8 L1004.6,619.1 L1005.6,618.9 L1006.6,618.6 L1007.6,618.6 L1008.6,618.4 L1009.6,618.1 L1010.6,617.8 L1011.6,618.2 L1012.6,618.3 L1013.6,618.5 L1014.6,618.6 L1015.6,618.4 L1016.6,618.4 L1017.6,618.2 L1018.6,618.1 L1019.6,618.0 L1020.6,617.7 L1021.6,617.8 L1022.6,617.8 L1023.6,618.2 L1024.6,618.5 L1025.6,618.4 L1026.6,618.3 L1027.6,618.3 L1028.6,618.4 L1029.6,618.0 L1030.6,617.7 L1031.6,617.6 L1032.6,617.9 L1033.6,618.0 L1034.6,618.1 L1035.6,618.1 L1036.6,618.0 L1037.6,618.0 L1039.4,618.1" fill="none" stroke="#0d67ad" stroke-width="2.8" stroke-linejoin="round" stroke-linecap="butt"/>
<g fill="#262626">
<text transform="translate(79.6,335.3) scale(1.0,1.045)" font-size="33" text-anchor="end">0</text>
<text transform="translate(79.6,216.6) scale(1.0,1.045)" font-size="33" text-anchor="end">5</text>
<text transform="translate(79.6,98.0) scale(1.0,1.045)" font-size="33" text-anchor="end">10</text>
<text transform="translate(79.6,630.7) scale(1.0,1.045)" font-size="33" text-anchor="end">0</text>
<text transform="translate(79.6,561.5) scale(1.0,1.045)" font-size="33" text-anchor="end">5</text>
<text transform="translate(79.6,492.3) scale(1.0,1.045)" font-size="33" text-anchor="end">10</text>
<text transform="translate(79.6,423.1) scale(1.0,1.045)" font-size="33" text-anchor="end">15</text>
<text transform="translate(83.9,672.2) scale(1.0,1.045)" font-size="33" text-anchor="middle">500</text>
<text transform="translate(322.5,672.2) scale(1.0,1.045)" font-size="33" text-anchor="middle">1000</text>
<text transform="translate(559.3,672.2) scale(1.0,1.045)" font-size="33" text-anchor="middle">1500</text>
<text transform="translate(798.9,672.2) scale(1.0,1.045)" font-size="33" text-anchor="middle">2000</text>
<text transform="translate(1035.4,672.2) scale(1.0,1.045)" font-size="33" text-anchor="middle">2500</text>
</g>
<text transform="translate(560.0,712.4) scale(1.0,0.995)" font-size="41.7" text-anchor="middle" font-weight="bold" fill="#000">Wavenumber <tspan dx="-1.9">(</tspan><tspan dx="1.2">cm</tspan><tspan font-size="22.4" dy="-14.4" dx="-0.9">-1</tspan><tspan dy="14.4" dx="2.0">)</tspan></text>
<text transform="translate(30.3,344.2) rotate(-90) scale(1,0.995)" font-size="42" font-weight="bold" fill="#000" text-anchor="middle">Intensity a.u.</text>
<text transform="translate(538.4,95.5) scale(1.0,1.035)" font-size="33.4" text-anchor="middle" font-weight="bold" fill="#231815">Spontaneous Raman</text>
<text transform="translate(339.8,141.9) scale(1.0,1.045)" font-size="33.2" fill="#231815">3-s, ~14 mW/µm<tspan font-size="19.5" dy="-11">2</tspan><tspan dy="11" dx="-0.5" fill="#000">,</tspan><tspan dx="-4.2" fill="#000"> λ = 532 nm</tspan></text>
<text transform="translate(537.8,390.0) scale(1.0,1.035)" font-size="33.3" text-anchor="middle" font-weight="bold" fill="#231815">Raw spectrum, SuperB-SRS</text>
<text transform="translate(305.8,432.4) scale(1.0,1.045)" font-size="33.2" fill="#231815">8-ms, ~29 mW/µm<tspan font-size="19.5" dy="-11">2</tspan><tspan dy="11" dx="-0.3">,</tspan><tspan dx="-2.4"> λ ~ 1-µm</tspan></text>
<g fill="#2d3787">
<text transform="translate(104,90.6) scale(1.0,1.05)" font-size="33.65">SNR 362</text>
<text transform="translate(149.0,122.8) scale(1.0,1.05)" font-size="33.65">SNR 364</text>
<text transform="translate(246,220) scale(1.0,1.05)" font-size="33.65">SNR 171</text>
<text transform="translate(447.8,287.4) scale(1.0,1.05)" font-size="33.65">SNR 45</text>
<text transform="translate(704.5,292.5) scale(1.0,1.05)" font-size="33.65">SNR 38</text>
<text transform="translate(789.5,112.5) scale(1.0,1.05)" font-size="33.65">SNR 374</text>
<text transform="translate(881,242.5) scale(1.0,1.05)" font-size="33.65">SNR 136</text>
</g>
<g fill="#000000">
<text transform="translate(101.5,432.5) scale(1.0,1.05)" font-size="33.65">SNR 47</text>
<text transform="translate(154.5,481) scale(1.0,1.05)" font-size="33.65">SNR 35</text>
<text transform="translate(279.5,521) scale(1.0,1.05)" font-size="33.65">SNR 228</text>
<text transform="translate(474.5,543.2) scale(1.0,1.05)" font-size="33.65">SNR 334</text>
<text transform="translate(778,407) scale(1.0,1.05)" font-size="33.65">SNR 1003</text>
<text transform="translate(688.5,576) scale(1.0,1.05)" font-size="33.65">SNR 163</text>
<text transform="translate(875.5,587) scale(1.0,1.05)" font-size="33.65">SNR 89</text>
</g>
<g stroke="#3a3a3a" stroke-width="1" fill="none">
<line x1="137.5" y1="98.5" x2="137.5" y2="127.5"/>
<line x1="137.5" y1="448.5" x2="137.5" y2="604.3"/>
<line x1="163.2" y1="491" x2="163.2" y2="606.5"/>
<line x1="326.5" y1="531" x2="326.5" y2="568"/>
</g>
</svg></body></html>
